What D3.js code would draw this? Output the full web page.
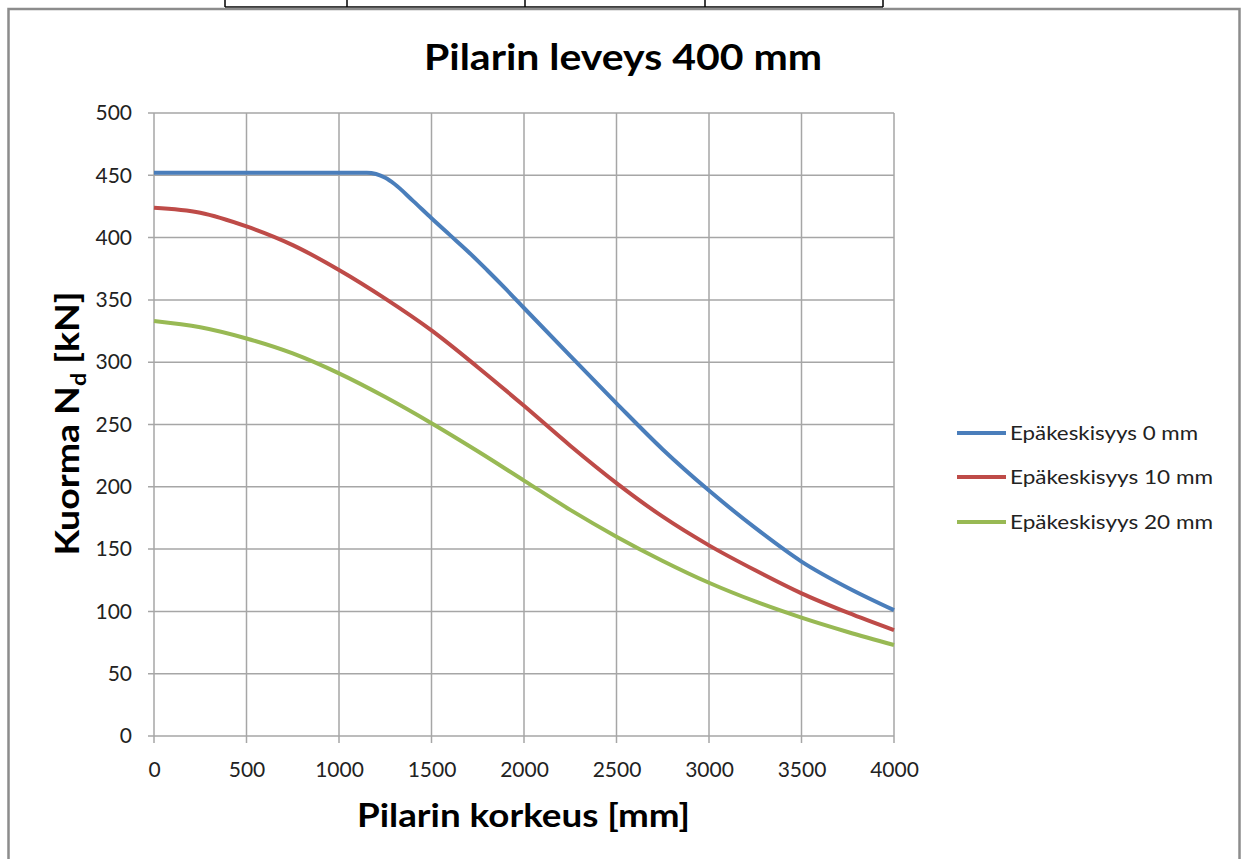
<!DOCTYPE html>
<html>
<head>
<meta charset="utf-8">
<script src="https://cdn.jsdelivr.net/npm/d3@7"></script>
<style>
  html, body { margin: 0; padding: 0; background: #fff; }
  svg { display: block; }
</style>
</head>
<body>
<svg id="chart" width="1247" height="859"></svg>
<script>
// ---- Data ----
const chartTitle = "Pilarin leveys 400 mm";
const xTitle = "Pilarin korkeus [mm]";
const seriesNames = ["Epäkeskisyys 0 mm", "Epäkeskisyys 10 mm", "Epäkeskisyys 20 mm"];
const seriesColors = ["#4a7ebb", "#be4b48", "#98b954"];

const xTicks = [0, 500, 1000, 1500, 2000, 2500, 3000, 3500, 4000];
const yTicks = [0, 50, 100, 150, 200, 250, 300, 350, 400, 450, 500];

const heightsBlue = [0, 250, 500, 750, 1000, 1100, 1150, 1200, 1250, 1300, 1400, 1500, 1600, 1700, 1800, 1900, 2000, 2250, 2500, 2750, 3000, 3250, 3500, 3750, 4000];
const load0mm    = [452, 452, 452, 452, 452, 452, 452, 451, 448, 443, 429.5, 415.5, 402, 388.5, 374, 359, 343.5, 305, 267, 230, 197, 167, 140, 119, 101];

const heights = [0, 250, 500, 750, 1000, 1250, 1500, 1750, 2000, 2250, 2500, 2750, 3000, 3250, 3500, 3750, 4000];
const load10mm = [424, 420, 409, 394, 374, 351, 325.5, 296, 265, 233, 203, 176, 153, 133, 114.5, 99, 85];
const load20mm = [333, 328, 319, 307, 291, 272, 251, 228.5, 205, 181.5, 160, 140.5, 123, 108, 95, 83.5, 73];

// top table fragment (column borders)
const tableCols = [225, 347, 525, 705, 883];

// ---- Layout ----
const svg = d3.select("#chart");
const plot = { left: 154, right: 894, top: 113, bottom: 736 };
const fontFam = "Lato, 'Open Sans', 'DejaVu Sans', sans-serif";

const x = d3.scaleLinear().domain([0, 4000]).range([plot.left, plot.right]);
const y = d3.scaleLinear().domain([0, 500]).range([plot.bottom, plot.top]);

// table fragment at top
const tbl = svg.append("g").attr("stroke", "#000").attr("stroke-width", 1.5);
tableCols.forEach(c => tbl.append("line").attr("x1", c).attr("x2", c).attr("y1", 0).attr("y2", 7));
tbl.append("line").attr("x1", tableCols[0]).attr("x2", tableCols[tableCols.length - 1]).attr("y1", 7).attr("y2", 7);

// chart border
svg.append("rect").attr("x", 8.5).attr("y", 9).attr("width", 1231).attr("height", 860)
  .attr("fill", "#fff").attr("stroke", "#8c8c8c").attr("stroke-width", 2.5);

// grid
const grid = svg.append("g").attr("stroke", "#a6a6a6").attr("stroke-width", 1.5);
yTicks.forEach(t => grid.append("line").attr("x1", plot.left - 6).attr("x2", plot.right)
  .attr("y1", y(t)).attr("y2", y(t)));
xTicks.forEach(t => grid.append("line").attr("x1", x(t)).attr("x2", x(t))
  .attr("y1", plot.top).attr("y2", plot.bottom + 7));

// axes (labels via d3 axes)
const yAxis = svg.append("g").attr("transform", `translate(${plot.left},0)`)
  .call(d3.axisLeft(y).tickValues(yTicks).tickSize(0).tickPadding(22));
const xAxis = svg.append("g").attr("transform", `translate(0,${plot.bottom})`)
  .call(d3.axisBottom(x).tickValues(xTicks).tickSize(0).tickPadding(26).tickFormat(d3.format("d")));
[yAxis, xAxis].forEach(a => {
  a.select(".domain").remove();
  a.selectAll("text").attr("font-family", fontFam).attr("font-size", 21).attr("fill", "#222");
});

// series
const line = d3.line().x(d => x(d[0])).y(d => y(d[1])).curve(d3.curveMonotoneX);
const series = [
  d3.zip(heightsBlue, load0mm),
  d3.zip(heights, load10mm),
  d3.zip(heights, load20mm)
];
series.forEach((s, i) => {
  svg.append("path").datum(s).attr("d", line).attr("fill", "none")
    .attr("stroke", seriesColors[i]).attr("stroke-width", 4).attr("stroke-linejoin", "round");
});

// title
svg.append("text").attr("x", 623).attr("y", 70).attr("text-anchor", "middle")
  .attr("font-family", fontFam).attr("font-weight", "bold").attr("font-size", 36)
  .attr("textLength", 398).attr("lengthAdjust", "spacingAndGlyphs")
  .attr("fill", "#000").text(chartTitle);

// x axis title
svg.append("text").attr("x", 523.5).attr("y", 827).attr("text-anchor", "middle")
  .attr("font-family", fontFam).attr("font-weight", "bold").attr("font-size", 32)
  .attr("textLength", 333).attr("lengthAdjust", "spacingAndGlyphs")
  .attr("fill", "#000").text(xTitle);

// y axis title with subscript
const yt = svg.append("text").attr("transform", "translate(79,423.5) rotate(-90) scale(1.17,1)")
  .attr("text-anchor", "middle").attr("font-family", fontFam).attr("font-weight", "bold")
  .attr("font-size", 32).attr("fill", "#000");
yt.append("tspan").text("Kuorma N");
yt.append("tspan").attr("font-size", 20).attr("dy", 7).text("d");
yt.append("tspan").attr("dy", -7).text(" [kN]");

// legend
const legY = [433, 477, 522];
const legLen = [188, 203, 203];
seriesNames.forEach((n, i) => {
  svg.append("line").attr("x1", 957).attr("x2", 1006).attr("y1", legY[i]).attr("y2", legY[i])
    .attr("stroke", seriesColors[i]).attr("stroke-width", 4);
  svg.append("text").attr("x", 1010).attr("y", legY[i] + 7).attr("font-family", fontFam)
    .attr("font-size", 20).attr("textLength", legLen[i]).attr("lengthAdjust", "spacingAndGlyphs")
    .attr("fill", "#222").text(n);
});
</script>
</body>
</html>
